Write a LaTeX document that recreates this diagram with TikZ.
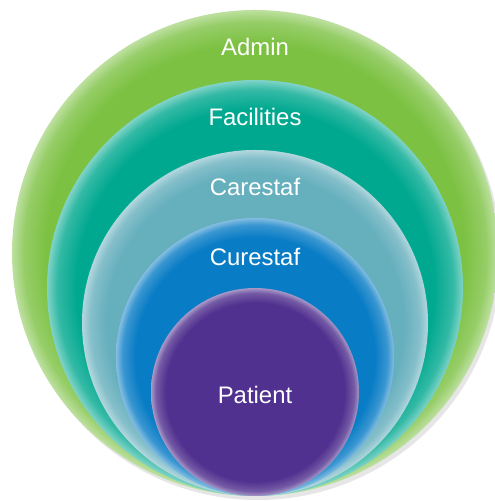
\documentclass[tikz,border=0pt]{standalone}
\usepackage{fontspec}
\setmainfont{Liberation Sans}
\usetikzlibrary{shadows}

\definecolor{admincol}{HTML}{7CC142}
\definecolor{facilcol}{HTML}{00A88F}
\definecolor{carecol}{HTML}{66AFBD}
\definecolor{curecol}{HTML}{087CC5}
\definecolor{patientcol}{HTML}{51318F}

\newcommand{\rimshading}[2]{%
  \colorlet{#1mid}{#2!80!white}%
  \colorlet{#1rim}{#2!50!white}%
  \pgfdeclareradialshading{#1}{\pgfpoint{0bp}{0bp}}{%
    color(0bp)=(#2); color(21.5bp)=(#2); color(23.8bp)=(#1mid); color(25bp)=(#1rim); color(50bp)=(#1rim)}}
\rimshading{adminshade}{admincol}
\rimshading{facilshade}{facilcol}
\rimshading{careshade}{carecol}
\rimshading{cureshade}{curecol}
\rimshading{patientshade}{patientcol}

\begin{document}
\begin{tikzpicture}[x=1bp, y=1bp]
        % Define styles
        \tikzset{
            ring/.style={circle, inner sep=0pt, outer sep=0pt, shade},
            label text/.style={text=white, font=\fontsize{24}{28}\selectfont}
        }
        \useasboundingbox (0,0) rectangle (495,501);

        % Circles
        \node[ring, minimum size=486bp, shading=adminshade,
              drop shadow={shadow xshift=3bp, shadow yshift=-4bp, opacity=0.2, fill=black!50}] (admin) at (255,248) {};
        \node[ring, minimum size=416bp, shading=facilshade] (facilities) at (255,213) {};
        \node[ring, minimum size=346bp, shading=careshade] (carestaf) at (255,178) {};
        \node[ring, minimum size=278bp, shading=cureshade] (curestaf) at (255,144) {};
        \node[ring, minimum size=208bp, shading=patientshade] (patient) at (255,109) {};

        % Labels
        \node[label text] (admin_label) at (255,454) {Admin};
        \node[label text] (facilities_label) at (255,384) {Facilities};
        \node[label text] (carestaf_label) at (255,314) {Carestaf};
        \node[label text] (curestaf_label) at (255,244) {Curestaf};
        \node[label text] (patient_label) at (255,106) {Patient};
    \end{tikzpicture}
\end{document}
